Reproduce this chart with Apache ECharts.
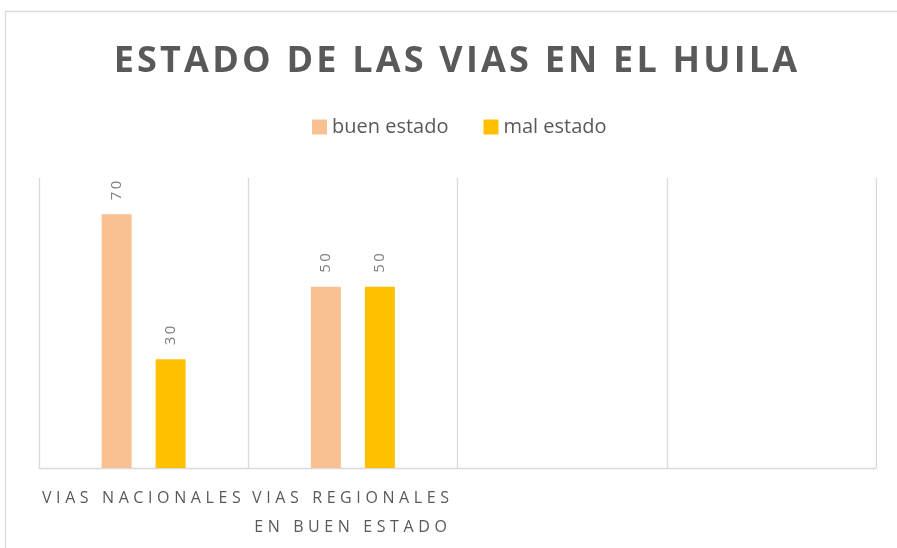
<!DOCTYPE html>
<html>
<head>
<meta charset="utf-8">
<script src="https://cdn.jsdelivr.net/npm/echarts@6/dist/echarts.min.js"></script>
<style>
  html, body { margin: 0; padding: 0; background: #fff; }
  #chart { width: 897px; height: 548px; }
</style>
</head>
<body>
<div id="chart"></div>
<script>
// datos
const categories = ['VIAS NACIONALES', 'VIAS REGIONALES\nEN BUEN ESTADO', '', ''];
const buenEstado = [70, 50, null, null];
const malEstado = [30, 50, null, null];
const valueMax = 80;

// ECharts no tiene letterSpacing: se fija en el canvas según el tamaño de letra
const spacingBySize = { '36': '3.2px', '16': '4.6px', '15': '2.5px' };
const nativeFillText = CanvasRenderingContext2D.prototype.fillText;
CanvasRenderingContext2D.prototype.fillText = function () {
  if ('letterSpacing' in this) {
    const m = /(\d+)px/.exec(this.font);
    const want = (m && spacingBySize[m[1]]) || '0px';
    if (this.letterSpacing !== want) this.letterSpacing = want;
  }
  return nativeFillText.apply(this, arguments);
};

const font = "'Open Sans', sans-serif";

const valueLabel = {
  show: true,
  position: 'top',
  rotate: 90,
  align: 'left',
  verticalAlign: 'middle',
  distance: 14,
  fontFamily: font,
  fontSize: 15,
  color: '#7f7f7f'
};

const option = {
  animation: false,
  textStyle: { fontFamily: font },
  title: {
    text: 'ESTADO DE LAS VIAS EN EL HUILA',
    left: 457,
    textAlign: 'center',
    top: 44,
    padding: 0,
    textStyle: {
      fontFamily: font,
      fontSize: 36,
      fontWeight: 'bold',
      color: '#595959'
    }
  },
  legend: {
    left: 312,
    top: 117,
    padding: 0,
    icon: 'rect',
    itemWidth: 15,
    itemHeight: 15,
    itemGap: 35,
    textStyle: { fontFamily: font, fontSize: 20, color: '#595959' },
    data: ['buen estado', 'mal estado']
  },
  graphic: [{
    type: 'rect',
    silent: true,
    shape: { x: 5.5, y: 11.5, width: 1000, height: 1000 },
    style: { fill: 'none', stroke: '#d9d9d9', lineWidth: 1.3 }
  }],
  grid: { left: 39, right: 21, top: 178, bottom: 80 },
  xAxis: {
    type: 'category',
    data: categories,
    axisLine: { lineStyle: { color: '#d9d9d9', width: 1.3 } },
    axisTick: { show: false },
    splitLine: { show: true, lineStyle: { color: '#d9d9d9', width: 1.3 } },
    axisLabel: {
      interval: 0,
      margin: 16,
      fontFamily: font,
      fontSize: 16,
      lineHeight: 29,
      color: '#595959'
    }
  },
  yAxis: {
    type: 'value',
    min: 0,
    max: valueMax,
    show: false,
    splitLine: { show: false }
  },
  series: [
    {
      name: 'buen estado',
      type: 'bar',
      data: buenEstado,
      barWidth: 30,
      barGap: '80%',
      itemStyle: { color: '#F9C191' },
      label: valueLabel
    },
    {
      name: 'mal estado',
      type: 'bar',
      data: malEstado,
      barWidth: 30,
      itemStyle: { color: '#FFC000' },
      label: valueLabel
    }
  ]
};

const chart = echarts.init(document.getElementById('chart'));
chart.setOption(option);
</script>
</body>
</html>
